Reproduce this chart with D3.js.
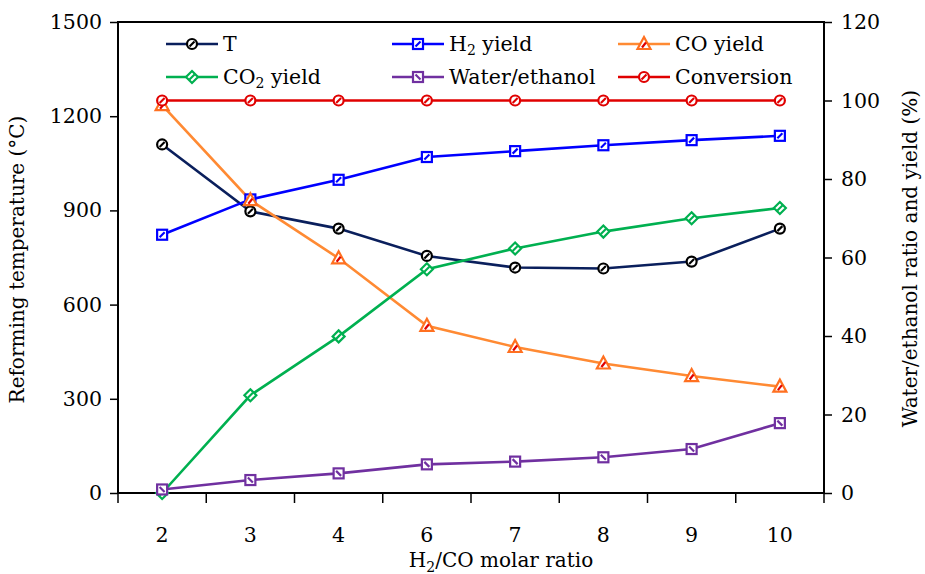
<html>
<head>
<style>
  body { margin: 0; background: #fff; }
  text { font-family: "DejaVu Serif", "Liberation Serif", serif; fill: #000; }
</style>
</head>
<body>
<svg width="925" height="574"></svg>
<script src="https://d3js.org/d3.v7.min.js"></script>
<script>
// data
var ratios = ["2", "3", "4", "6", "7", "8", "9", "10"];
var tempT = [1110, 897, 842, 755, 718, 715, 737, 842];
var h2Yield = [65.8, 74.8, 79.8, 85.6, 87.1, 88.6, 89.9, 91.0];
var coYield = [98.8, 74.6, 59.8, 42.6, 37.2, 33.0, 29.8, 27.1];
var co2Yield = [0, 24.9, 39.9, 57.0, 62.3, 66.6, 70.0, 72.6];
var waterEthanol = [0.9, 3.3, 5.0, 7.3, 8.0, 9.1, 11.2, 17.8];
var conversion = [100, 100, 100, 100, 100, 100, 100, 100];
var leftTicks = [0, 300, 600, 900, 1200, 1500];
var rightTicks = [0, 20, 40, 60, 80, 100, 120];

var series = [
  {name: "T", sub: null, vals: tempT, axis: "left", color: "#0a1f5c", mark: "#000", shape: "circle"},
  {name: "H", sub: "2", rest: " yield", vals: h2Yield, axis: "right", color: "#0000ff", mark: "#0000ff", shape: "square"},
  {name: "CO yield", sub: null, vals: coYield, axis: "right", color: "#ff8a33", mark: "#ff7020", inner: "#e00000", shape: "triangle"},
  {name: "CO", sub: "2", rest: " yield", vals: co2Yield, axis: "right", color: "#00b050", mark: "#00b050", shape: "diamond"},
  {name: "Water/ethanol", sub: null, vals: waterEthanol, axis: "right", color: "#7030a0", mark: "#7030a0", shape: "square2"},
  {name: "Conversion", sub: null, vals: conversion, axis: "right", color: "#e00000", mark: "#e00000", shape: "circle"}
];

var FONT = "DejaVu Serif";
var svg = d3.select("svg");
var margin = {top: 22, right: 101, bottom: 81, left: 118};
var width = 925 - margin.left - margin.right,
    height = 574 - margin.top - margin.bottom;
var g = svg.append("g").attr("transform", "translate(" + margin.left + "," + margin.top + ")");

var x = d3.scaleBand().domain(ratios).range([0, width]).padding(0);
var yL = d3.scaleLinear().domain([0, 1500]).range([height, 0]);
var yR = d3.scaleLinear().domain([0, 120]).range([height, 0]);

// frame
g.append("rect").attr("width", width).attr("height", height)
  .attr("fill", "none").attr("stroke", "#000").attr("stroke-width", 2);

// side axes
var la = g.append("g").call(d3.axisLeft(yL).tickValues(leftTicks).tickFormat(d3.format("d")).tickSize(8).tickPadding(8));
var ra = g.append("g").attr("transform", "translate(" + width + ",0)")
  .call(d3.axisRight(yR).tickValues(rightTicks).tickFormat(d3.format("d")).tickSize(8).tickPadding(9));
[la, ra].forEach(function (a) {
  a.attr("font-family", FONT);
  a.select(".domain").remove();
  a.selectAll("line").attr("stroke", "#000").attr("stroke-width", 1.5);
  a.selectAll("text").style("font-family", FONT).style("font-size", "20.5px");
});

// bottom axis: ticks on band edges, labels on band centres
var edges = ratios.map(function (r) { return x(r); }).concat([width]);
g.append("g").selectAll("line").data(edges).enter().append("line")
  .attr("x1", function (d) { return d; }).attr("x2", function (d) { return d; })
  .attr("y1", height).attr("y2", height + 10)
  .attr("stroke", "#000").attr("stroke-width", 1.5);
g.append("g").selectAll("text").data(ratios).enter().append("text")
  .attr("x", function (d) { return x(d) + x.bandwidth() / 2; })
  .attr("y", height + 49)
  .attr("text-anchor", "middle")
  .style("font-size", "20.5px")
  .text(function (d) { return d; });

// axis titles
var xt = g.append("text").attr("x", width / 2 + 30).attr("y", height + 74)
  .attr("text-anchor", "middle").style("font-size", "20px");
xt.append("tspan").text("H");
xt.append("tspan").attr("dy", 5).style("font-size", "14px").text("2");
xt.append("tspan").attr("dy", -5).text("/CO molar ratio");

g.append("text").attr("transform", "translate(-94," + (height / 2 + 2) + ") rotate(-90)")
  .attr("text-anchor", "middle").style("font-size", "20px")
  .text("Reforming temperature (\u00B0C)");
g.append("text").attr("transform", "translate(" + (width + 93) + "," + (height / 2 + 1) + ") rotate(-90)")
  .attr("text-anchor", "middle").style("font-size", "20px")
  .text("Water/ethanol ratio and yield (%)");

function drawMarker(sel, s) {
  var m;
  if (s.shape === "circle") {
    m = sel.append("circle").attr("r", 5);
  } else if (s.shape === "square" || s.shape === "square2") {
    m = sel.append("rect").attr("x", -5).attr("y", -5).attr("width", 10).attr("height", 10);
  } else if (s.shape === "triangle") {
    m = sel.append("path").attr("d", "M0,-7L6.5,5L-6.5,5Z");
  } else {
    m = sel.append("path").attr("d", "M0,-6L6,0L0,6L-6,0Z");
  }
  m.attr("fill", "#fff").attr("stroke", s.mark).attr("stroke-width", 2.2);
  var c = s.inner || s.mark;
  var d = s.shape === "square2" ? "M-2.5,-2.5L2.5,2.5" : "M-2.5,2.5L2.5,-2.5";
  if (s.shape === "triangle") d = "M-2,3.5L2,-1.5";
  sel.append("path").attr("d", d).attr("stroke", c).attr("stroke-width", 2.2);
}

series.forEach(function (s) {
  var y = s.axis === "left" ? yL : yR;
  var line = d3.line()
    .x(function (d, i) { return x(ratios[i]) + x.bandwidth() / 2; })
    .y(function (d) { return y(d); });
  g.append("path").datum(s.vals).attr("d", line)
    .attr("fill", "none").attr("stroke", s.color).attr("stroke-width", 2.6);
});
series.forEach(function (s) {
  var y = s.axis === "left" ? yL : yR;
  g.append("g").selectAll("g").data(s.vals).enter().append("g")
    .attr("transform", function (d, i) {
      return "translate(" + (x(ratios[i]) + x.bandwidth() / 2) + "," + y(d) + ")";
    })
    .each(function () { drawMarker(d3.select(this), s); });
});

// legend
var colX = [48, 274, 500], rowY = [22, 55];
series.forEach(function (s, i) {
  var lg = g.append("g").attr("transform", "translate(" + colX[i % 3] + "," + rowY[Math.floor(i / 3)] + ")");
  lg.append("line").attr("x1", 0).attr("x2", 52).attr("stroke", s.color).attr("stroke-width", 2.6);
  drawMarker(lg.append("g").attr("transform", "translate(26,0)"), s);
  var t = lg.append("text").attr("x", 57).attr("y", 7).style("font-size", "20.5px");
  t.append("tspan").text(s.name);
  if (s.sub) {
    t.append("tspan").attr("dy", 4).style("font-size", "14px").text(s.sub);
    t.append("tspan").attr("dy", -4).text(s.rest);
  }
});
</script>
</body>
</html>
